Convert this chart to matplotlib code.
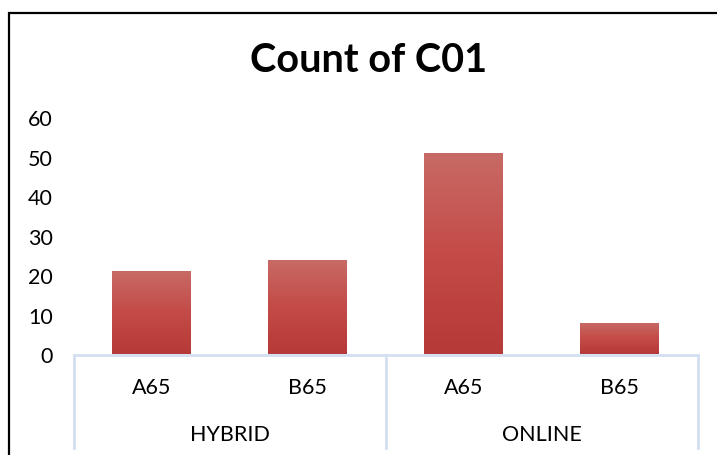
import numpy as np
import matplotlib
matplotlib.use("Agg")
import matplotlib.pyplot as plt
from matplotlib.patches import Rectangle
from matplotlib.colors import LinearSegmentedColormap
from matplotlib.lines import Line2D

plt.rcParams['font.family'] = ['Lato', 'DejaVu Sans']

title = "Count of C01"
groups = ["HYBRID", "ONLINE"]
sub_labels = ["A65", "B65", "A65", "B65"]
values = [21, 24, 51, 8]
yticks = [0, 10, 20, 30, 40, 50, 60]

W, H = 717, 456
fig = plt.figure(figsize=(W / 100, H / 100), dpi=100)

def fx(px):
    return px / W

def fy(py):
    return 1 - py / H

ax_left, ax_right, ax_bottom, ax_top = 73.5, 697.5, 355.5, 118
ax = fig.add_axes([fx(ax_left), fy(ax_bottom), fx(ax_right - ax_left), fy(ax_top) - fy(ax_bottom)])

n = len(values)
x = np.arange(n)
ax.set_xlim(-0.5, n - 0.5)
ax.set_ylim(0, 60)

cmap = LinearSegmentedColormap.from_list("barg", [(0.0, "#b63a37"), (0.5, "#c44b47"), (1.0, "#c86b66")])
grad = np.linspace(0, 1, 256).reshape(-1, 1)
bw = 79 / 156
bars = ax.bar(x, values, width=bw, color="none", edgecolor="none")
for b in bars:
    x0, y0 = b.get_x(), b.get_y()
    w, h = b.get_width(), b.get_height()
    im = ax.imshow(grad, cmap=cmap, origin="lower", aspect="auto",
                   extent=[x0, x0 + w, y0, y0 + h], zorder=2)
    im.set_clip_path(b)

ax.set_xlim(-0.5, n - 0.5)
ax.set_ylim(0, 60)
ax.set_yticks(yticks)
ax.set_yticklabels([str(t) for t in yticks], fontsize=15.5, color="#000000")
ax.tick_params(axis="y", length=0, pad=15)
ax.set_xticks([])
for s in ["top", "right", "left"]:
    ax.spines[s].set_visible(False)
ax.spines["bottom"].set_color("#d3e0f2")
ax.spines["bottom"].set_linewidth(2)
ax.patch.set_alpha(0)

# multi-level category axis
trans = ax.get_xaxis_transform()
box_bottom_px = 449
yb = (fy(box_bottom_px) - fy(ax_bottom)) / (fy(ax_top) - fy(ax_bottom))
for xv in [-0.5, 1.5, 3.5]:
    ax.add_line(Line2D([xv, xv], [0, yb], transform=trans, color="#d3e0f2", lw=2, clip_on=False))

y_sub = (fy(388) - fy(ax_bottom)) / (fy(ax_top) - fy(ax_bottom))
y_grp = (fy(435) - fy(ax_bottom)) / (fy(ax_top) - fy(ax_bottom))
for xi, lab in zip(x, sub_labels):
    ax.text(xi, y_sub, lab, transform=trans, ha="center", va="center", fontsize=15.5, color="#000000")
for gi, g in enumerate(groups):
    ax.text(gi * 2 + 0.5, y_grp, g, transform=trans, ha="center", va="center", fontsize=15.5, color="#000000")

# title
fig.text(fx(368.5), fy(61), title, ha="center", va="center", fontsize=28.5, fontweight="bold", color="#000000")

# chart border
fig.patches.append(Rectangle((fx(9), fy(470)), fx(730), fy(14) - fy(470), transform=fig.transFigure,
                             fill=False, edgecolor="#000000", lw=1.6, figure=fig))

fig.savefig("out.png", dpi=100, facecolor="white")
